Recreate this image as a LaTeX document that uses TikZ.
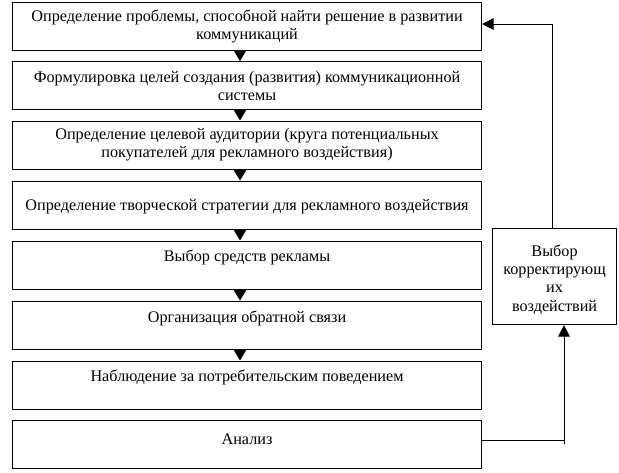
\documentclass[tikz,border=0pt]{standalone}
\usepackage{fontspec}
\setmainfont{Liberation Serif}
\usetikzlibrary{arrows.meta,calc}
\begin{document}
\begin{tikzpicture}[x=1pt,y=-1pt,
  box/.style={draw, line width=1.1pt, minimum width=469pt, minimum height=48pt, anchor=north west, inner sep=0pt},
  rbox/.style={draw, line width=1.1pt, minimum width=124pt, minimum height=96pt, anchor=north west, inner sep=0pt},
  lbl/.style={align=center, inner sep=0pt, font=\fontsize{16.2}{17.5}\selectfont},
  tri/.style={-{Triangle[length=11pt,width=13pt]}, line width=1pt},
  fb/.style={line width=1pt},
  fbarrow/.style={line width=1pt, -{Triangle[length=11.5pt,width=11.5pt]}}]
\useasboundingbox (0,0) rectangle (619,472);
\node[box] (b1) at (12,1.5) {};
\node[box] (b2) at (12,61) {};
\node[box] (b3) at (12,120.5) {};
\node[box] (b4) at (12,180.5) {};
\node[box] (b5) at (12,240.5) {};
\node[box] (b6) at (12,300.5) {};
\node[box] (b7) at (12,360.5) {};
\node[box] (b8) at (12,420) {};
\node[rbox] (rb) at (492,228) {};
\node[lbl] (t1) at ($(b1.north)+(0,25)$) {Определение проблемы, способной найти решение в развитии\\ коммуникаций};
\node[lbl] (t2) at ($(b2.north)+(0,25)$) {Формулировка целей создания (развития) коммуникационной\\ системы};
\node[lbl] (t3) at ($(b3.north)+(0,24)$) {Определение целевой аудитории (круга потенциальных\\ покупателей для рекламного воздействия)};
\node[lbl] (t4) at ($(b4.north)+(0,26)$) {Определение творческой стратегии для рекламного воздействия};
\node[lbl] (t5) at ($(b5.north)+(0,17)$) {Выбор средств рекламы};
\node[lbl] (t6) at ($(b6.north)+(0,18)$) {Организация обратной связи};
\node[lbl] (t7) at ($(b7.north)+(0,17)$) {Наблюдение за потребительским поведением};
\node[lbl] (t8) at ($(b8.north)+(0,19)$) {Анализ};
\node[lbl, font=\fontsize{16.2}{18.3}\selectfont] (trb) at ($(rb.center)+(0,3)$) {Выбор\\ корректирующ\\ их\\ воздействий};
\coordinate (ax) at (240,0);
\draw[tri] (b1.south -| ax) -- (b2.north -| ax);
\draw[tri] (b2.south -| ax) -- (b3.north -| ax);
\draw[tri] (b3.south -| ax) -- (b4.north -| ax);
\draw[tri] (b4.south -| ax) -- (b5.north -| ax);
\draw[tri] (b5.south -| ax) -- (b6.north -| ax);
\draw[tri] (b6.south -| ax) -- (b7.north -| ax);
\coordinate (c1) at (552,24);
\coordinate (c2) at (564,440);
\coordinate (c3) at (564,444);
\draw[fbarrow] (rb.north -| c1) -- (c1) -- (b1.east |- c1);
\draw[fb] (b8.east |- c2) -- (c2);
\draw[fbarrow] (c3) -- (rb.south -| c3);
\end{tikzpicture}
\end{document}
